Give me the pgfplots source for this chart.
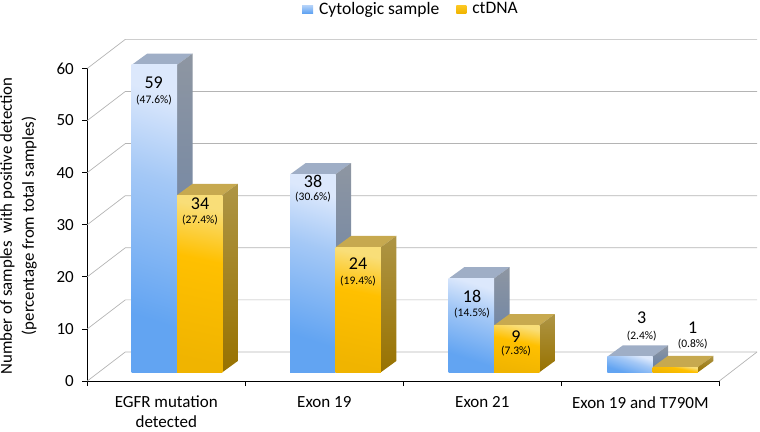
\documentclass[border=0pt]{standalone}
\usepackage{fontspec}
\setmainfont{Carlito}
\usepackage{pgfplots}
\pgfplotsset{compat=1.18}

\definecolor{blueTop}{HTML}{9FAEC6}
\definecolor{blueSideA}{HTML}{8E96A2}
\definecolor{blueSideB}{HTML}{5F7CA6}
\definecolor{blueFrontA}{HTML}{DCE8FC}
\definecolor{blueFrontM}{HTML}{A4C8F6}
\definecolor{blueFrontB}{HTML}{62A4F2}
\definecolor{yelTop}{HTML}{C7A94F}
\definecolor{yelSideA}{HTML}{AE9545}
\definecolor{yelSideB}{HTML}{987200}
\definecolor{yelFrontA}{HTML}{F9DE78}
\definecolor{yelFrontM}{HTML}{FFC000}
\definecolor{yelFrontB}{HTML}{F0B400}
\definecolor{gridcol}{HTML}{B4B4B4}

\pgfdeclareverticalshading{bluegrad}{100bp}{
  color(0bp)=(blueFrontB); color(30bp)=(blueFrontB); color(58bp)=(blueFrontM);
  color(75bp)=(blueFrontA); color(100bp)=(blueFrontA)}
\pgfdeclareverticalshading{yelgrad}{100bp}{
  color(0bp)=(yelFrontB); color(25bp)=(yelFrontB); color(58bp)=(yelFrontM);
  color(75bp)=(yelFrontA); color(100bp)=(yelFrontA)}

% one 3D bar: left edge (pixels), value, top colour, side shade, front shade
\newcommand{\threedbar}[5]{%
  \pgfmathsetmacro{\xa}{#1}%
  \pgfmathsetmacro{\xb}{#1+45.3}%
  \pgfmathsetmacro{\xc}{#1+45.3+15.5}%
  \pgfmathsetmacro{\xd}{#1+15.5}%
  \pgfmathsetmacro{\ya}{1.67}%
  \pgfmathsetmacro{\yb}{#2+1.67}%
  \pgfmathsetmacro{\yc}{#2+1.67+2.17}%
  \pgfmathsetmacro{\yd}{1.67+2.17}%
  \addplot[forget plot, draw=none, fill=#3] coordinates {(\xa,\yb) (\xb,\yb) (\xc,\yc) (\xd,\yc)} --cycle;
  \addplot[forget plot, draw=none, #4] coordinates {(\xb,\ya) (\xc,\yd) (\xc,\yc) (\xb,\yb)} --cycle;
  \addplot[forget plot, draw=none, #5] coordinates {(\xa,\ya) (\xb,\ya) (\xb,\yb) (\xa,\yb)} --cycle;
}
% text placed by its pixel position in the reference
\newcommand{\lab}[4]{\node[font=\fontsize{#4}{#4}\selectfont, inner sep=0pt] at (axis cs:#1,{(381-#2)/5.21}) {#3};}

\tikzset{
  blueside/.style={shade, top color=blueSideA, bottom color=blueSideB},
  bluefront/.style={shade, shading=bluegrad, shading angle=-18},
  yelside/.style={shade, top color=yelSideA, bottom color=yelSideB},
  yelfront/.style={shade, shading=yelgrad, shading angle=-12},
}

\begin{document}
\begin{tikzpicture}
\begin{axis}[
    scale only axis,
    width=632pt, height=312.6pt,
    xmin=87.3, xmax=719.3,
    ymin=0, ymax=60,
    clip=false,
    axis lines=left,
    axis line style={black, line width=0.8pt, -},
    xtick={87.3,245.3,403.3,561.3,719.3},
    x tick label as interval=true,
    xticklabels={{EGFR mutation\\detected},{Exon 19},{Exon 21},{Exon 19 and T790M}},
    xticklabel style={align=center, font=\fontsize{17}{20}\selectfont, yshift=-10pt, inner ysep=0pt},
    ytick={0,10,20,30,40,50,60},
    yticklabel style={font=\fontsize{17}{18}\selectfont, xshift=-5pt},
    /pgf/number format/assume math mode=true,
    tick style={black, line width=0.8pt},
    tick align=outside,
    major tick length=5pt,
    ylabel={Number of samples\ \ with positive detection\\(percentage from total samples)},
    ylabel style={align=center, font=\fontsize{16.8}{22}\selectfont, at={(axis description cs:-0.1089,0.496)}, anchor=center, inner sep=0pt},
    legend style={draw=none, fill=none, at={(0.512,1.19)}, anchor=center, legend columns=2, font=\fontsize{17.5}{14}\selectfont,
      inner ysep=0pt, nodes={inner ysep=0pt},
      /tikz/every even column/.append style={column sep=15pt}},
    legend cell align=left,
]
% bounding box of the whole picture
\path (axis cs:0,-9.60) rectangle (axis cs:760,73.13);

% back wall and floor grid
\pgfplotsinvokeforeach{0,10,20,30,40,50,60}{
  \pgfmathsetmacro{\yg}{#1+5.57}
  \addplot[forget plot, gridcol, line width=0.7pt] coordinates {(87.3,#1) (125.3,\yg) (757,\yg)};
}
\addplot[forget plot, gridcol, line width=0.7pt] coordinates {(719.3,0) (757,5.57)};

% Cytologic sample and ctDNA bars
\threedbar{131.7}{59}{blueTop}{blueside}{bluefront}
\threedbar{177.0}{34}{yelTop}{yelside}{yelfront}
\threedbar{290.2}{38}{blueTop}{blueside}{bluefront}
\threedbar{335.5}{24}{yelTop}{yelside}{yelfront}
\threedbar{448.7}{18}{blueTop}{blueside}{bluefront}
\threedbar{494.0}{9}{yelTop}{yelside}{yelfront}
\threedbar{607.3}{3}{blueTop}{blueside}{bluefront}
\threedbar{652.6}{1}{yelTop}{yelside}{yelfront}

\addlegendimage{legend image code/.code={\path[draw=none] (0pt,0pt) rectangle (15pt,0pt); \path[draw=none, shade, top color=blueFrontA!70!blueFrontB, bottom color=blueFrontB] (0pt,-4pt) rectangle (11pt,4pt);}}
\addlegendentry{Cytologic sample}
\addlegendimage{legend image code/.code={\path[draw=none] (0pt,0pt) rectangle (14pt,0pt); \path[draw=none, shade, top color=yelFrontM!70!yelFrontA, bottom color=yelFrontB] (0pt,-4pt) rectangle (10pt,4pt);}}
\addlegendentry{ctDNA}

\lab{153.7}{82.7}{59}{18}
\lab{154}{100.3}{(47.6\%)}{11.5}
\lab{200}{204}{34}{18}
\lab{200}{220}{(27.4\%)}{11.5}
\lab{313}{181}{38}{18}
\lab{313}{197}{(30.6\%)}{11.5}
\lab{358}{264}{24}{18}
\lab{358}{281}{(19.4\%)}{11.5}
\lab{472}{296}{18}{18}
\lab{472}{313}{(14.5\%)}{11.5}
\lab{516}{337}{9}{18}
\lab{516}{351}{(7.3\%)}{11.5}
\lab{641.7}{318}{3}{18}
\lab{641.7}{335.7}{(2.4\%)}{11.5}
\lab{692.7}{328}{1}{18}
\lab{692.7}{344}{(0.8\%)}{11.5}
\end{axis}
\end{tikzpicture}
\end{document}
